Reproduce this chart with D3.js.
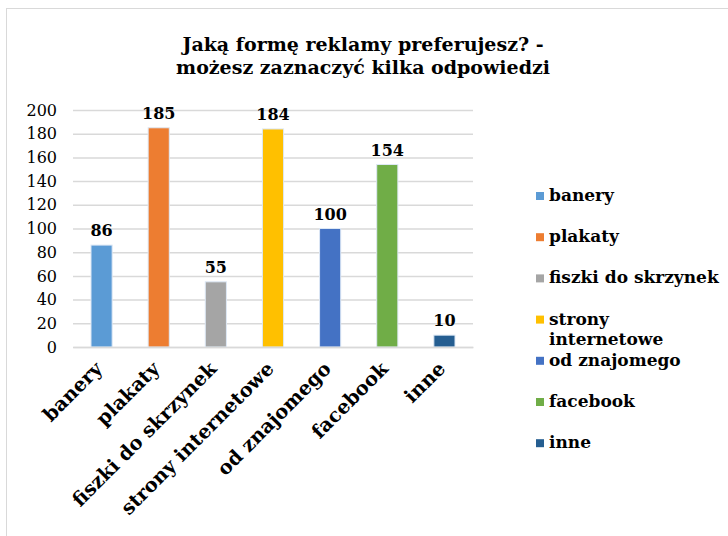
<!DOCTYPE html>
<html>
<head>
<meta charset="utf-8">
<script src="https://cdn.jsdelivr.net/npm/d3@7"></script>
<style>
  body { margin: 0; background: #fff; }
  text { font-family: "DejaVu Serif", "Liberation Serif", serif; }
</style>
</head>
<body>
<script>
var categories = ["banery", "plakaty", "fiszki do skrzynek", "strony internetowe", "od znajomego", "facebook", "inne"];
var values = [86, 185, 55, 184, 100, 154, 10];
var colors = ["#5B9BD5", "#ED7D31", "#A5A5A5", "#FFC000", "#4472C4", "#70AD47", "#255E91"];
var legendLabels = [["banery"], ["plakaty"], ["fiszki do skrzynek"], ["strony", "internetowe"], ["od znajomego"], ["facebook"], ["inne"]];
var yTicks = [0, 20, 40, 60, 80, 100, 120, 140, 160, 180, 200];
var titleLines = ["Jaką formę reklamy preferujesz? -", "możesz zaznaczyć kilka odpowiedzi"];

var svg = d3.select("body").append("svg")
            .attr("width", 728)
            .attr("height", 536);

// chart border
svg.append("rect")
    .attr("x", 6.5).attr("y", 8.5)
    .attr("width", 740).attr("height", 540)
    .attr("fill", "#fff")
    .attr("stroke", "#d9d9d9");

// title
svg.append("text").selectAll("tspan")
  .data(titleLines)
  .enter().append("tspan")
          .attr("x", 363)
          .attr("y", function(d,i){return 51+i*23;})
          .attr("text-anchor", "middle")
          .attr("font-size", "19")
          .attr("font-weight", "bold")
          .text(function(d){return d;});

var x = d3.scaleBand().domain(categories).range([73, 473]).paddingInner(0.63).paddingOuter(0.315);
var y = d3.scaleLinear().domain([0, 200]).range([347, 110]);

// gridlines
svg.append("g")
    .attr("transform", "translate(73,0)")
    .call(d3.axisLeft(y).tickValues(yTicks).tickSize(-400).tickFormat(""))
    .call(function(g){
      g.select(".domain").remove();
      g.selectAll("line").attr("stroke", "#d9d9d9").attr("stroke-width", 1.5);
    });

// y labels
svg.append("g")
    .attr("transform", "translate(73,0)")
    .call(d3.axisLeft(y).tickValues(yTicks).tickSize(0).tickPadding(16))
    .call(function(g){
      g.select(".domain").remove();
      g.selectAll("text").attr("font-size", "16").attr("fill", "#000")
        .style("font-family", "'DejaVu Serif', serif");
    });

// bars
svg.selectAll("rect.bar")
    .data(values)
    .enter().append("rect")
              .attr("class", "bar")
              .attr("x", function(d,i){return x(categories[i]);})
              .attr("width", x.bandwidth())
              .attr("y", function(d){return y(d);})
              .attr("height", function(d){return y(0)-y(d);})
              .attr("fill", function(d,i){return colors[i];})
              .attr("stroke", "#dde8f5")
              .attr("stroke-width", 1);

// value labels
svg.selectAll("text.val")
    .data(values)
    .enter().append("text")
              .attr("class", "val")
              .attr("x", function(d,i){return x(categories[i]) + x.bandwidth()/2;})
              .attr("y", function(d){return y(d) - 9;})
              .attr("text-anchor", "middle")
              .attr("font-size", "16")
              .attr("font-weight", "bold")
              .text(function(d){return d;});

// x axis line
svg.append("g")
    .attr("transform", "translate(0,347)")
    .call(d3.axisBottom(x).tickSize(0).tickFormat(""))
    .call(function(g){
      g.select(".domain").attr("stroke", "#d9d9d9").attr("stroke-width", 1.5);
    });

// x labels rotated
svg.selectAll("text.cat")
    .data(categories)
    .enter().append("text")
              .attr("class", "cat")
              .attr("transform", function(d){
                return "translate(" + (x(d) + x.bandwidth()/2 + 2) + ",370) rotate(-45)";
              })
              .attr("text-anchor", "end")
              .attr("font-size", "19.5")
              .attr("font-weight", "bold")
              .text(function(d){return d;});

// legend, evenly spaced; the two-line entry just runs over downward
var legend = svg.selectAll("g.leg")
    .data(legendLabels)
    .enter().append("g")
              .attr("class", "leg")
              .attr("transform", function(d,i){return "translate(536," + (201 + i*41.2) + ")";});

legend.append("rect")
    .attr("x", 0).attr("y", -9)
    .attr("width", 8).attr("height", 8)
    .attr("fill", function(d,i){return colors[i];});

legend.append("text")
    .attr("font-size", "17")
    .attr("font-weight", "bold")
    .selectAll("tspan")
    .data(function(d){return d;})
    .enter().append("tspan")
            .attr("x", 13)
            .attr("y", function(d,i){return i*20;})
            .text(function(d){return d;});
</script>
</body>
</html>
